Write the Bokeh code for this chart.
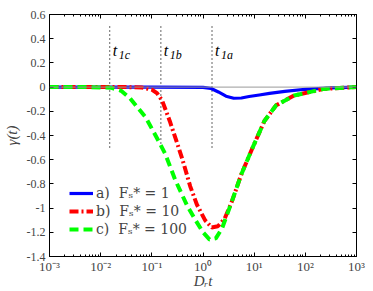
import numpy as np
from bokeh.plotting import figure
from bokeh.models import (FixedTicker, LogAxis, LinearAxis, Span, Legend, LegendItem,
                          CustomJSTickFormatter)
from bokeh.core.properties import value
from bokeh.embed import file_html
from bokeh.resources import INLINE

# ---- data (log10 of D_r t, gamma) ----
blue_log_t = [-3, -1, 0, 0.15, 0.3, 0.45, 0.6, 0.75, 0.9, 1.1, 1.3, 1.6, 2.0, 2.5, 3]
blue_gamma = [0, 0, -0.002, -0.01, -0.04, -0.075, -0.092, -0.09, -0.078, -0.065, -0.052, -0.036, -0.018, -0.006, 0]

red_log_t = [-3, -2, -1.5, -1.2, -1.0, -0.9, -0.8, -0.65, -0.5, -0.4, -0.25, -0.12, 0.04, 0.17,
             0.29, 0.42, 0.56, 0.75, 0.95, 1.2, 1.43, 1.78, 2.36, 3]
red_gamma = [0, 0, 0, -0.003, -0.02, -0.05, -0.11, -0.28, -0.47, -0.6, -0.82, -0.97, -1.10, -1.16,
             -1.15, -1.09, -0.95, -0.72, -0.52, -0.28, -0.15, -0.07, -0.015, 0]

green_log_t = [-3, -2.2, -1.8, -1.6, -1.43, -1.12, -0.85, -0.74, -0.54, -0.31, -0.16, 0.0, 0.13,
               0.25, 0.37, 0.56, 0.75, 0.95, 1.2, 1.43, 1.78, 2.36, 3]
green_gamma = [0, 0, -0.005, -0.03, -0.09, -0.25, -0.46, -0.55, -0.77, -0.98, -1.09, -1.20, -1.26,
               -1.25, -1.17, -0.95, -0.72, -0.52, -0.28, -0.15, -0.07, -0.015, 0]

legend_labels = ["a)  Fₛ* = 1", "b)  Fₛ* = 10", "c)  Fₛ* = 100"]

marker_t = [0.015, 0.15, 1.5]
marker_sub = ["1c", "1b", "1a"]
marker_span = [-0.5, 0.5]
marker_label_y = 0.3

x_ticks = [1e-3, 1e-2, 1e-1, 1e0, 1e1, 1e2, 1e3]
x_tick_labels = ["10⁻³", "10⁻²", "10⁻¹", "10⁰", "10¹", "10²", "10³"]
y_ticks = [-1.4, -1.2, -1.0, -0.8, -0.6, -0.4, -0.2, 0, 0.2, 0.4, 0.6]
y_tick_labels = ["-1.4", "-1.2", "-1", "-0.8", "-0.6", "-0.4", "-0.2", "0", "0.2", "0.4", "0.6"]

FONT = "Liberation Serif"
FONT2 = "DejaVu Serif"

p = figure(width=373, height=291, x_axis_type="log", x_range=(1e-3, 1e3), y_range=(-1.4, 0.6),
           output_backend="svg", toolbar_location=None,
           min_border_left=46, min_border_right=17, min_border_top=14, min_border_bottom=34)
p.grid.visible = False
p.outline_line_color = "black"
p.background_fill_color = "white"

minor = [m * d for d in x_ticks[:-1] for m in range(2, 10)]
xt = FixedTicker(ticks=x_ticks, minor_ticks=minor)
yt = FixedTicker(ticks=y_ticks, minor_ticks=[])

xa = p.xaxis[0]
xa.ticker = xt
xa.formatter = CustomJSTickFormatter(
    args=dict(vals=x_ticks, labs=x_tick_labels),
    code="""
    for (let i = 0; i < vals.length; i++) {
        if (Math.abs(Math.log10(tick) - Math.log10(vals[i])) < 1e-6) return labs[i];
    }
    return '';
    """)
ya = p.yaxis[0]
ya.ticker = yt
ya.formatter = CustomJSTickFormatter(
    args=dict(vals=y_ticks, labs=y_tick_labels),
    code="""
    for (let i = 0; i < vals.length; i++) {
        if (Math.abs(tick - vals[i]) < 1e-6) return labs[i];
    }
    return '';
    """)

for ax in (xa, ya):
    ax.major_tick_in = 4
    ax.major_tick_out = 0
    ax.minor_tick_in = 2
    ax.minor_tick_out = 0
    ax.major_label_text_font = FONT
    ax.major_label_text_font_size = "12px"
    ax.axis_label_text_font = FONT
    ax.axis_label_text_font_style = "italic"
    ax.axis_label_text_font_size = "15px"
    ax.axis_line_color = "black"
    ax.major_label_standoff = 4
    ax.axis_label_standoff = 0
xa.major_label_text_font_size = "13px"
xa.major_label_standoff = 2
xa.axis_label_standoff = -4
xa.axis_label = "Dᵣt"
ya.axis_label = "γ(t)"
ya.axis_label_standoff = 4

blank = CustomJSTickFormatter(code="return ''")
top = LogAxis(ticker=xt, formatter=blank, major_tick_in=4, major_tick_out=0, minor_tick_in=2,
              minor_tick_out=0, major_label_standoff=0, major_label_text_font_size="1px")
right = LinearAxis(ticker=yt, formatter=blank, major_tick_in=4, major_tick_out=0, minor_tick_in=0,
                   minor_tick_out=0, major_label_standoff=0, major_label_text_font_size="1px")
p.add_layout(top, "above")
p.add_layout(right, "right")

p.add_layout(Span(location=0, dimension="width", line_color="#999999", line_width=1))

for t in marker_t:
    p.line([t, t], marker_span, line_color="black", line_width=1.2, line_dash="1 3")
p.text(x=marker_t, y=[marker_label_y] * 3, text=["t"] * 3, x_offset=3,
       text_font=value(FONT), text_font_style="italic", text_font_size="16px",
       text_baseline="middle", text_align="left")
p.text(x=marker_t, y=[marker_label_y] * 3, text=marker_sub, x_offset=9, y_offset=4,
       text_font=value(FONT), text_font_style="italic", text_font_size="12px",
       text_baseline="middle", text_align="left")

rb = p.line(np.power(10.0, blue_log_t), blue_gamma, line_color="#0000FF", line_width=3.2)
rr = p.line(np.power(10.0, red_log_t), red_gamma, line_color="#FF0000", line_width=4,
            line_dash="9 3 2 3")
rg = p.line(np.power(10.0, green_log_t), green_gamma, line_color="#00FF00", line_width=4,
            line_dash="9 5")

legend = Legend(items=[LegendItem(label=legend_labels[0], renderers=[rb]),
                       LegendItem(label=legend_labels[1], renderers=[rr]),
                       LegendItem(label=legend_labels[2], renderers=[rg])],
                location=(20, 18), border_line_color=None, background_fill_alpha=0,
                label_text_font=FONT2, label_text_font_size="14px", glyph_width=24,
                label_standoff=3, spacing=0, label_height=18, glyph_height=18, padding=2,
                margin=0)
p.add_layout(legend)

open("out.html", "w").write(file_html(p, INLINE))
